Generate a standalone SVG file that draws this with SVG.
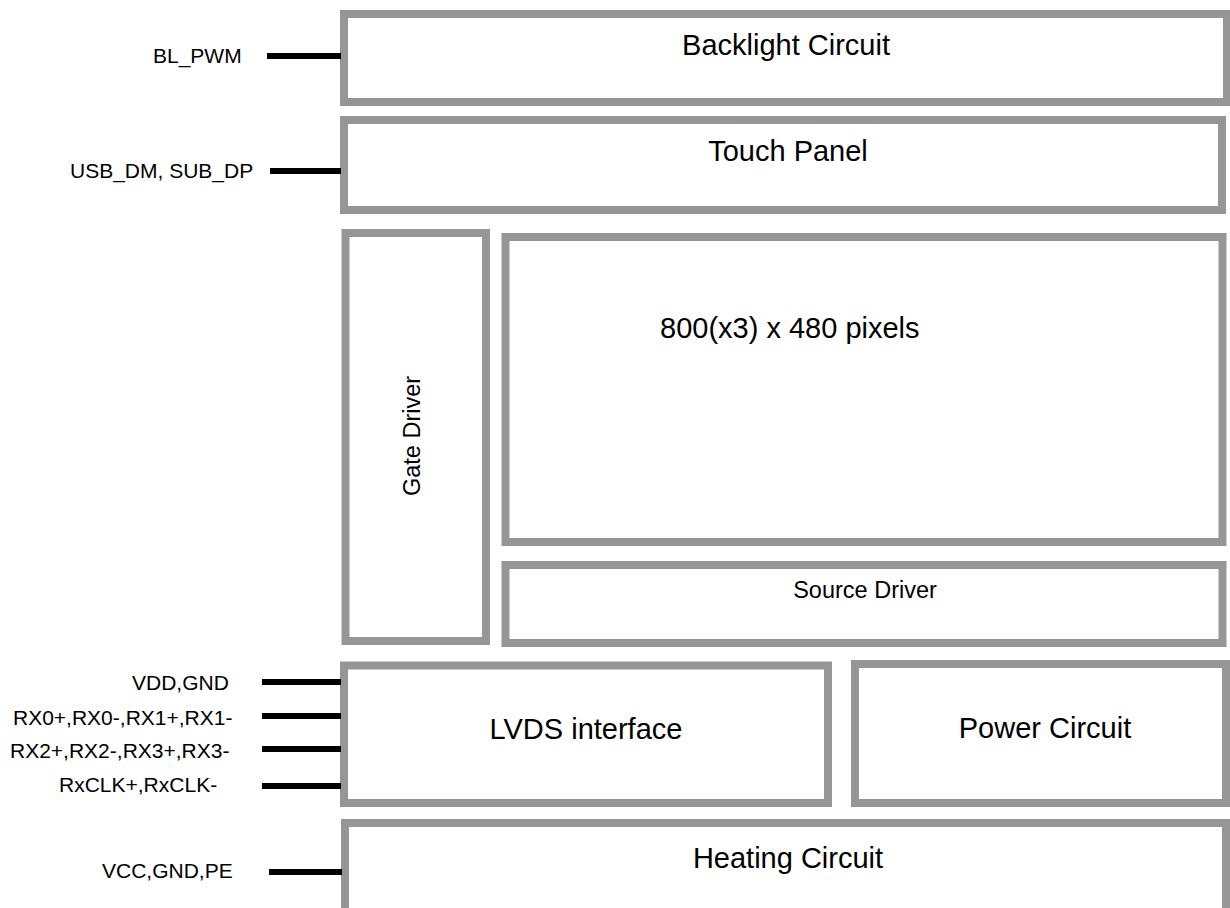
<svg xmlns="http://www.w3.org/2000/svg" width="1230" height="908" viewBox="0 0 1230 908">
<style>
.box{fill:#fff;stroke:#969696;stroke-width:8}
.t{font-family:"Liberation Sans",Arial,sans-serif;fill:#000}
.big{font-size:29px;text-anchor:middle}
.mid{font-size:23.5px;text-anchor:middle}
.lbl{font-size:21px}
.wire{stroke:#000;stroke-width:6}
</style>
<rect width="1230" height="908" fill="#fff"/>
<g id="backlight"><rect class="box" x="344" y="14" width="883" height="88"/><text class="t big" x="786" y="55">Backlight Circuit</text></g>
<g id="touch"><rect class="box" x="344" y="120" width="878" height="90"/><text class="t big" x="788" y="161">Touch Panel</text></g>
<g id="gate"><rect class="box" x="345.5" y="233" width="140.5" height="408"/><text class="t mid" transform="translate(420,436) rotate(-90)">Gate Driver</text></g>
<g id="pixels"><rect class="box" x="505.5" y="237" width="717" height="305"/><text class="t" style="font-size:29px" x="660" y="338">800(x3) x 480 pixels</text></g>
<g id="source"><rect class="box" x="505.5" y="565" width="717" height="78"/><text class="t mid" x="865" y="598">Source Driver</text></g>
<g id="lvds"><rect class="box" x="344" y="665.5" width="484" height="137.5"/><text class="t big" x="586" y="739">LVDS interface</text></g>
<g id="power"><rect class="box" x="855" y="664" width="371" height="139"/><text class="t big" x="1045" y="738">Power Circuit</text></g>
<g id="heating"><rect class="box" x="345" y="823" width="881" height="95"/><text class="t big" x="788" y="868">Heating Circuit</text></g>
<g id="connectors">
<line class="wire" x1="267" y1="56" x2="341" y2="56"/>
<line class="wire" x1="270" y1="171" x2="341" y2="171"/>
<line class="wire" x1="262" y1="682" x2="341" y2="682"/>
<line class="wire" x1="262" y1="716" x2="341" y2="716"/>
<line class="wire" x1="262" y1="749" x2="341" y2="749"/>
<line class="wire" x1="262" y1="786" x2="341" y2="786"/>
<line class="wire" x1="269" y1="872" x2="342" y2="872"/>
</g>
<g id="labels">
<text class="t lbl" x="153" y="63">BL_PWM</text>
<text class="t lbl" x="70" y="178">USB_DM, SUB_DP</text>
<text class="t lbl" x="132" y="690">VDD,GND</text>
<text class="t lbl" x="13" y="725">RX0+,RX0-,RX1+,RX1-</text>
<text class="t lbl" x="10" y="758">RX2+,RX2-,RX3+,RX3-</text>
<text class="t lbl" x="59" y="792">RxCLK+,RxCLK-</text>
<text class="t lbl" x="102" y="878">VCC,GND,PE</text>
</g>
</svg>
